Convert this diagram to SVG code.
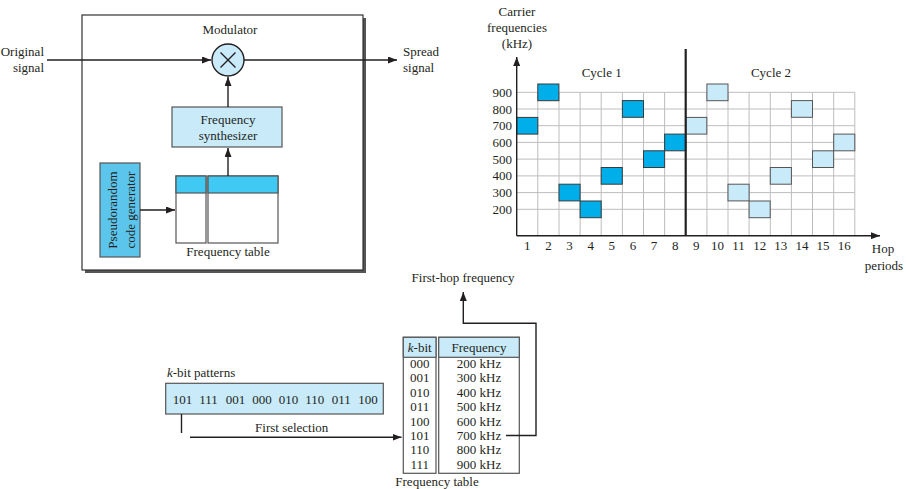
<svg xmlns="http://www.w3.org/2000/svg" width="906" height="489" viewBox="0 0 906 489">
<style>
text{font-family:"Liberation Serif","Times New Roman",serif;font-size:13px;fill:#231f20}
.c{text-anchor:middle}
.r{text-anchor:end}
.ln{stroke:#231f20;stroke-width:1.4;fill:none}
.grid{stroke:#bdbdbd;stroke-width:1;fill:none}
.dk{fill:#00aeea;stroke:#3a3a3a;stroke-width:1}
.lt{fill:#c9eaf9;stroke:#555;stroke-width:1}
.box{stroke:#555;stroke-width:1.2}
</style>
<defs>
<marker id="ah" markerUnits="userSpaceOnUse" markerWidth="9" markerHeight="7" refX="9" refY="3.5" orient="auto">
<path d="M0,0 L9,3.5 L0,7 z" fill="#231f20"/>
</marker>
</defs>
<rect width="906" height="489" fill="#fff"/>

<g id="modulator">
<rect x="85" y="18" width="281" height="255" fill="#555"/>
<rect x="82" y="15" width="281" height="255" fill="#fff" stroke="#333" stroke-width="1.2"/>
<text class="c" x="230" y="34">Modulator</text>
</g>

<g id="original-signal">
<text class="r" x="44" y="56">Original</text>
<text class="r" x="44" y="72">signal</text>
</g>
<g id="spread-signal">
<text x="403" y="56">Spread</text>
<text x="403" y="72">signal</text>
</g>

<g id="multiplier">
<circle cx="228" cy="60" r="16" fill="#c9eaf9" stroke="#231f20" stroke-width="1.4"/>
<path d="M220.5,52.5 L235.5,67.5 M235.5,52.5 L220.5,67.5" stroke="#231f20" stroke-width="1.4"/>
</g>

<g id="synthesizer">
<rect x="172" y="107" width="110" height="40" fill="#c9eaf9" class="box"/>
<text class="c" x="228" y="124">Frequency</text>
<text class="c" x="228" y="140">synthesizer</text>
</g>

<g id="pseudorandom">
<rect x="100" y="163" width="40" height="94" fill="#5cc5ec" class="box"/>
<text class="c" transform="translate(117,210) rotate(-90)">Pseudorandom</text>
<text class="c" transform="translate(135,210) rotate(-90)">code generator</text>
</g>

<g id="mod-freq-table">
<rect x="176" y="176" width="30" height="67" fill="#fff" class="box"/>
<rect x="208" y="176" width="70" height="67" fill="#fff" class="box"/>
<rect x="176" y="176" width="30" height="17" fill="#3fc9f3" class="box"/>
<rect x="208" y="176" width="70" height="17" fill="#3fc9f3" class="box"/>
<text class="c" x="228" y="256">Frequency table</text>
</g>

<g id="chart">
<g class="grid">
<path d="M537.8,92.3V235.7 M559,92.3V235.7 M580.1,92.3V235.7 M601.2,92.3V235.7 M622.4,92.3V235.7 M643.5,92.3V235.7 M664.6,92.3V235.7 M706.9,92.3V235.7 M728,92.3V235.7 M749.1,92.3V235.7 M770.3,92.3V235.7 M791.4,92.3V235.7 M812.5,92.3V235.7 M833.7,92.3V235.7 M854.8,92.3V235.7"/>
<path d="M516.7,92.3H854.8 M516.7,109H854.8 M516.7,125.7H854.8 M516.7,142.4H854.8 M516.7,159.1H854.8 M516.7,175.9H854.8 M516.7,192.6H854.8 M516.7,209.3H854.8"/>
</g>
<g id="cycle1-hops">
<rect class="dk" x="516.7" y="117.4" width="21.1" height="16.7"/>
<rect class="dk" x="537.8" y="84" width="21.1" height="16.7"/>
<rect class="dk" x="559" y="184.2" width="21.1" height="16.7"/>
<rect class="dk" x="580.1" y="201" width="21.1" height="16.7"/>
<rect class="dk" x="601.2" y="167.5" width="21.1" height="16.7"/>
<rect class="dk" x="622.4" y="100.6" width="21.1" height="16.7"/>
<rect class="dk" x="643.5" y="150.8" width="21.1" height="16.7"/>
<rect class="dk" x="664.6" y="134.1" width="21.1" height="16.7"/>
</g>
<g id="cycle2-hops">
<rect class="lt" x="685.7" y="117.4" width="21.1" height="16.7"/>
<rect class="lt" x="706.9" y="84" width="21.1" height="16.7"/>
<rect class="lt" x="728" y="184.2" width="21.1" height="16.7"/>
<rect class="lt" x="749.1" y="201" width="21.1" height="16.7"/>
<rect class="lt" x="770.3" y="167.5" width="21.1" height="16.7"/>
<rect class="lt" x="791.4" y="100.6" width="21.1" height="16.7"/>
<rect class="lt" x="812.5" y="150.8" width="21.1" height="16.7"/>
<rect class="lt" x="833.7" y="134.1" width="21.1" height="16.7"/>
</g>
<path d="M685.7,49V235.7" stroke="#231f20" stroke-width="2.2"/>
<path class="ln" d="M516.7,235.7V57" marker-end="url(#ah)"/>
<path class="ln" d="M516.7,235.7H880" marker-end="url(#ah)"/>
<g id="y-labels">
<text class="r" x="512" y="96.8">900</text>
<text class="r" x="512" y="113.5">800</text>
<text class="r" x="512" y="130.2">700</text>
<text class="r" x="512" y="146.9">600</text>
<text class="r" x="512" y="163.6">500</text>
<text class="r" x="512" y="180.4">400</text>
<text class="r" x="512" y="197.1">300</text>
<text class="r" x="512" y="213.8">200</text>
</g>
<g id="x-labels">
<text class="c" x="527.3" y="249.5">1</text>
<text class="c" x="548.4" y="249.5">2</text>
<text class="c" x="569.5" y="249.5">3</text>
<text class="c" x="590.7" y="249.5">4</text>
<text class="c" x="611.8" y="249.5">5</text>
<text class="c" x="632.9" y="249.5">6</text>
<text class="c" x="654.1" y="249.5">7</text>
<text class="c" x="675.2" y="249.5">8</text>
<text class="c" x="696.3" y="249.5">9</text>
<text class="c" x="717.4" y="249.5">10</text>
<text class="c" x="738.6" y="249.5">11</text>
<text class="c" x="759.7" y="249.5">12</text>
<text class="c" x="780.8" y="249.5">13</text>
<text class="c" x="802" y="249.5">14</text>
<text class="c" x="823.1" y="249.5">15</text>
<text class="c" x="844.2" y="249.5">16</text>
</g>
<text class="c" x="517" y="16">Carrier</text>
<text class="c" x="517" y="31.5">frequencies</text>
<text class="c" x="517" y="47.5">(kHz)</text>
<text class="c" x="883" y="253">Hop</text>
<text class="c" x="884" y="269.5">periods</text>
<text class="c" x="601.7" y="77">Cycle 1</text>
<text class="c" x="771" y="77">Cycle 2</text>
</g>

<g id="kbit-patterns">
<text x="167" y="377"><tspan font-style="italic">k</tspan>-bit patterns</text>
<rect x="165.7" y="383.3" width="217.6" height="30.7" fill="#c9eaf9" class="box"/>
<text x="172.7" y="404">101</text>
<text x="199.2" y="404">111</text>
<text x="225.7" y="404">001</text>
<text x="252.2" y="404">000</text>
<text x="278.7" y="404">010</text>
<text x="305.2" y="404">110</text>
<text x="331.7" y="404">011</text>
<text x="358.2" y="404">100</text>
</g>

<g id="freq-table">
<rect x="403.3" y="337.3" width="32.7" height="136" fill="#fff" class="box"/>
<rect x="438.7" y="337.3" width="80.6" height="136" fill="#fff" class="box"/>
<rect x="403.3" y="337.3" width="32.7" height="20" fill="#c9eaf9" class="box"/>
<rect x="438.7" y="337.3" width="80.6" height="20" fill="#c9eaf9" class="box"/>
<text class="c" x="419.7" y="352"><tspan font-style="italic">k</tspan>-bit</text>
<text class="c" x="479" y="352">Frequency</text>
<text class="c" x="419.7" y="368">000</text>
<text class="c" x="419.7" y="382.4">001</text>
<text class="c" x="419.7" y="396.8">010</text>
<text class="c" x="419.7" y="411.2">011</text>
<text class="c" x="419.7" y="425.6">100</text>
<text class="c" x="419.7" y="440">101</text>
<text class="c" x="419.7" y="454.4">110</text>
<text class="c" x="419.7" y="468.8">111</text>
<text class="c" x="479" y="368">200 kHz</text>
<text class="c" x="479" y="382.4">300 kHz</text>
<text class="c" x="479" y="396.8">400 kHz</text>
<text class="c" x="479" y="411.2">500 kHz</text>
<text class="c" x="479" y="425.6">600 kHz</text>
<text class="c" x="479" y="440">700 kHz</text>
<text class="c" x="479" y="454.4">800 kHz</text>
<text class="c" x="479" y="468.8">900 kHz</text>
<text class="c" x="437" y="486">Frequency table</text>
</g>

<g id="labels">
<text class="c" x="463" y="282">First-hop frequency</text>
<text class="c" x="291.7" y="432">First selection</text>
</g>

<g id="connectors">
<path class="ln" d="M47,60H211" marker-end="url(#ah)"/>
<path class="ln" d="M244,60H397" marker-end="url(#ah)"/>
<path class="ln" d="M228,107V77" marker-end="url(#ah)"/>
<path class="ln" d="M228,176V148" marker-end="url(#ah)"/>
<path class="ln" d="M140,210H175" marker-end="url(#ah)"/>
<path class="ln" d="M181.5,414V433"/>
<path class="ln" d="M190,437.3H401.5" marker-end="url(#ah)"/>
<path class="ln" d="M506,435.5H536V323.3H463.3V292" marker-end="url(#ah)"/>
</g>
</svg>
